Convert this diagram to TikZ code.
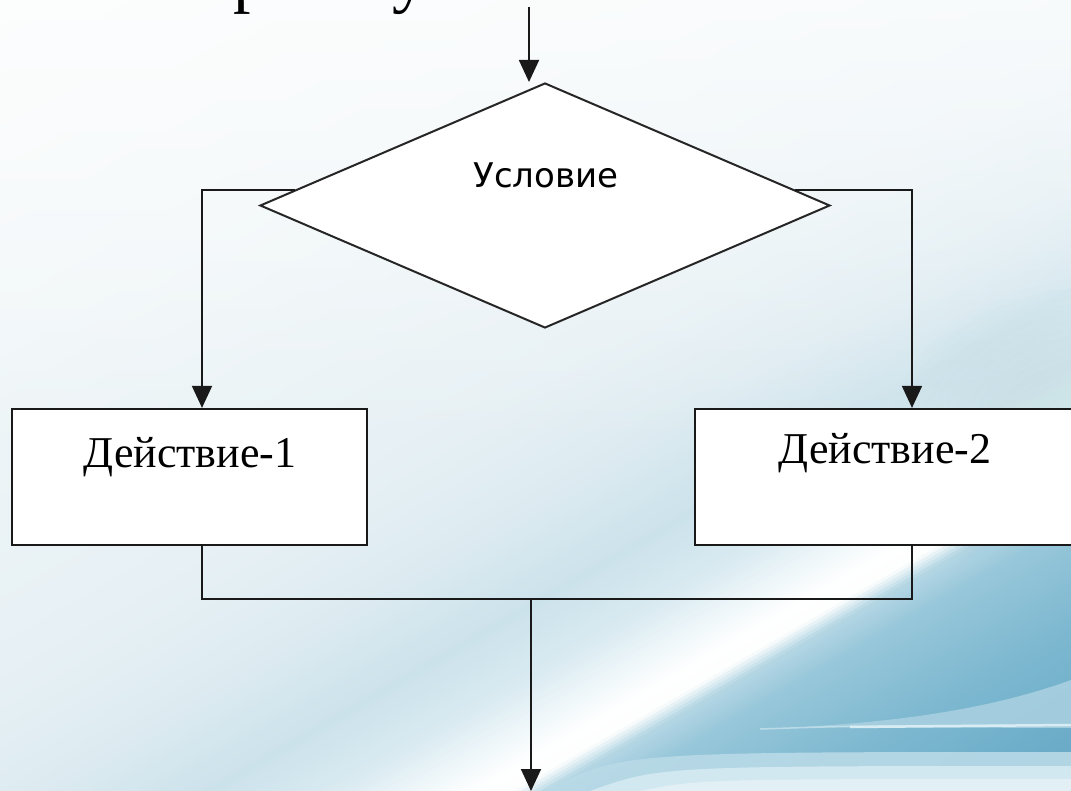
\documentclass[tikz,border=0pt]{standalone}
\usepackage{fontspec}
\usetikzlibrary{arrows.meta,shapes.geometric,calc}
\newfontfamily\condfont{DejaVu Sans}
\newfontfamily\actfont{Liberation Serif}
\newfontfamily\headfont{Liberation Serif}
\tikzset{
  conn/.style={draw=black!90, line width=1.8pt},
  arr/.style={conn, -{Triangle[length=22pt,width=20pt]}},
  diam/.style={diamond, draw=black!85, line width=2pt, fill=white,
    minimum width=570pt, minimum height=245pt, inner sep=0pt},
  actbox/.style={rectangle, draw=black!90, line width=2.2pt, fill=white,
    minimum height=136pt, inner sep=0pt},
  acttext/.style={font=\actfont\fontsize{44}{50}\selectfont, inner sep=0pt, anchor=base},
  condtext/.style={font=\condfont\fontsize{34}{40}\selectfont, inner sep=0pt, anchor=base},
  headtext/.style={font=\headfont\fontsize{70}{80}\selectfont, inner sep=0pt, anchor=base west},
}
\begin{document}
\begin{tikzpicture}[x=1pt,y=-1pt]
\useasboundingbox (0,0) rectangle (1071,791);
\clip (0,0) rectangle (1071,791);
% ---------- background ----------
\begin{scope}[rotate=-60]
\foreach \pa/\ca/\pb/\cb in {
  0/F7FAFB/300/F0F6F8,
  300/F0F6F8/600/E6F0F4,
  600/E6F0F4/700/DDEBF1,
  700/DDEBF1/790/CCE2EB,
  790/CCE2EB/850/D9EAF1,
  850/D9EAF1/900/F3F9FB,
  900/F3F9FB/925/FFFFFF,
  925/FFFFFF/942/FDFEFE,
  942/FDFEFE/958/B5D7E4,
  958/B5D7E4/990/98C7DA,
  990/98C7DA/1080/7DB8D0,
  1080/7DB8D0/1230/62A5C4,
  1230/62A5C4/1400/5DA1C1}{
  \definecolor{bga}{HTML}{\ca}\definecolor{bgb}{HTML}{\cb}
  \pgfmathtruncatemacro\nn{max(1,round((\pb-\pa)/3))}
  \pgfmathsetmacro\st{(\pb-\pa)/\nn}
  \foreach \i in {1,...,\nn}{
    \pgfmathsetmacro\ua{\pa+(\i-1)*\st}
    \pgfmathsetmacro\ub{\pa+\i*\st+0.9}
    \pgfmathsetmacro\mx{100*(\i-0.5)/\nn}
    \fill[bgb!\mx!bga] (\ua,-1500) rectangle (\ub,1500);
  }
}
\end{scope}
\foreach \i in {0,...,44}{
  \pgfmathsetmacro\op{0.7*(1-(\i+0.5)/45)}
  \fill[white, opacity=\op] (0,10*\i) rectangle (1071,10*\i+10);
}
% soft blue tint at the right edge above the second box
\definecolor{tint}{HTML}{A6D0E0}
\foreach \r in {200,190,...,40}{
  \fill[tint, opacity=0.025] (1090,440) ellipse [x radius=\r, y radius=\r*0.8];
}
% swooshes
\definecolor{swa}{HTML}{A8D0E0}
\definecolor{swb}{HTML}{D8ECF3}
\definecolor{swc}{HTML}{B9DAE7}
\definecolor{swd}{HTML}{D2E8F0}
\definecolor{swe}{HTML}{E2F0F5}
\fill[swa, opacity=0.9] (800,727) .. controls (930,720) and (1010,702) .. (1071,680) -- (1071,728) -- cycle;
\draw[swb, line width=1.5pt, opacity=0.6] (760,729) .. controls (850,726) .. (1071,725);
\draw[swb, line width=2.5pt] (850,727) -- (1071,725);
\fill[swc, opacity=0.9] (545,791) .. controls (620,752) .. (1071,752) -- (1071,791) -- cycle;
\fill[swd] (590,791) .. controls (660,766) .. (1071,766) -- (1071,791) -- cycle;
\fill[swe] (640,791) .. controls (700,779) .. (1071,779) -- (1071,791) -- cycle;
% ---------- heading fragments ----------
\node[headtext] (h1) at (233,0) {р};
\node[headtext] (h2) at (392,0) {у};
% ---------- nodes ----------
\node[diam] (cond) at (545,205.5) {};
\node[condtext] (condlbl) at (546,188) {Условие};
\node[actbox, minimum width=355pt] (act1) at (189.5,477) {};
\node[acttext] (act1lbl) at (190,467) {Действие-1};
\node[actbox, minimum width=380pt] (act2) at (885,477) {};
\node[acttext] (act2lbl) at (885,463) {Действие-2};
% ---------- coordinates ----------
\coordinate (topin) at (529,7);
\coordinate (lx) at (202,0);
\coordinate (rx) at (912,0);
\coordinate (merge) at (531,599);
\coordinate (outpt) at (531,791);
\coordinate (Lstart) at ($(cond.west)!0.127!(cond.north)$);
\coordinate (Rstart) at ($(cond.east)!0.127!(cond.north)$);
% ---------- connectors ----------
\draw[arr] (topin) -- (topin |- cond.north);
\draw[arr] (Lstart) -| (lx |- act1.north);
\draw[arr] (Rstart) -| (rx |- act2.north);
\draw[conn] (lx |- act1.south) -- (lx |- merge) -- (rx |- merge) -- (rx |- act2.south);
\draw[arr] (merge) -- (outpt);
\end{tikzpicture}
\end{document}
